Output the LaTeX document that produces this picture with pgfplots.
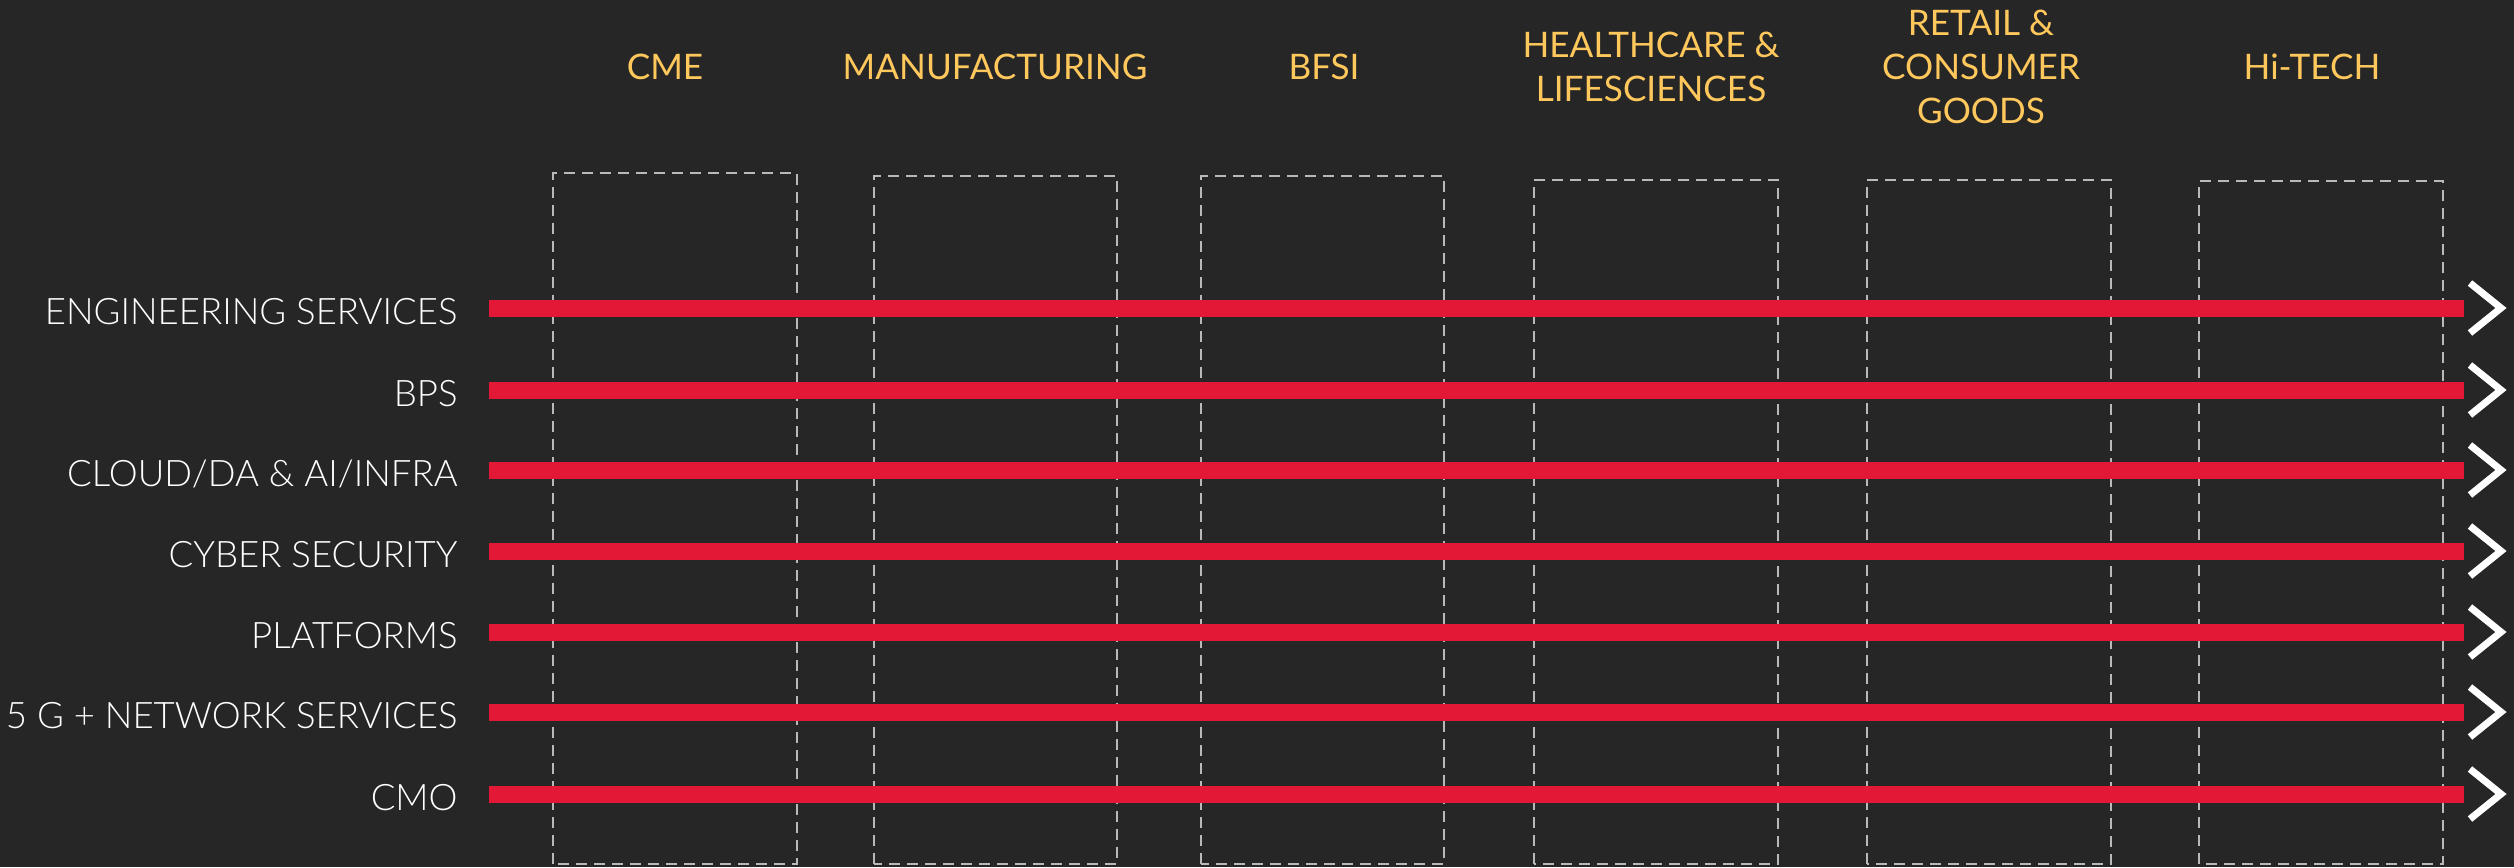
\documentclass[border=0pt]{standalone}
\usepackage{fontspec}
\setmainfont{Lato}[UprightFont={* Light}]
\newfontfamily\hdrfont{Lato}
\usepackage{pgfplots}
\pgfplotsset{compat=1.18}
\definecolor{bg}{RGB}{38,38,38}
\definecolor{barred}{RGB}{226,24,54}
\definecolor{hdr}{RGB}{255,200,92}
\definecolor{boxgray}{RGB}{185,185,185}
\pgfdeclareplotmark{chev}{%
  \pgfpathmoveto{\pgfpoint{-0.16cm}{0.25cm}}%
  \pgfpathlineto{\pgfpoint{0.15cm}{0cm}}%
  \pgfpathlineto{\pgfpoint{-0.16cm}{-0.25cm}}%
  \pgfusepathqstroke}
\begin{document}
\begin{tikzpicture}
\begin{axis}[
  scale only axis, width=25.14cm, height=8.67cm,
  xmin=0, xmax=2514, ymin=0, ymax=867,
  clip=false,
  axis line style={draw=none},
  major tick length=0pt,
  axis background/.style={fill=bg},
  ytick={73,155,235,316,397,477,559},
  yticklabels={CMO, 5 G + NETWORK SERVICES, PLATFORMS, CYBER SECURITY, CLOUD/DA \& AI/INFRA, BPS, ENGINEERING SERVICES},
  yticklabel style={anchor=east, xshift=4.70cm, yshift=-0.035cm, text=white, font=\fontsize{10.4}{12.5}\selectfont},
  xtick={665,995,1324,1651,1981,2312},
  xticklabels={CME, MANUFACTURING, BFSI, {HEALTHCARE \&\\LIFESCIENCES}, {RETAIL \&\\CONSUMER\\GOODS}, Hi-TECH},
  xticklabel pos=upper,
  xticklabel style={anchor=center, align=center, yshift=-0.67cm, text=hdr, font=\hdrfont\fontsize{10}{12.5}\selectfont},
  boxstyle/.style={boxgray, line width=0.02cm, dash pattern=on 0.11cm off 0.07cm},
  barstyle/.style={barred, line width=0.17cm},
]
% dashed industry boxes
\addplot[boxstyle] coordinates {(553,3)(553,694)(797,694)(797,3)(553,3)};
\addplot[boxstyle] coordinates {(874,3)(874,691)(1117,691)(1117,3)(874,3)};
\addplot[boxstyle] coordinates {(1201,3)(1201,691)(1444,691)(1444,3)(1201,3)};
\addplot[boxstyle] coordinates {(1534,3)(1534,687)(1778,687)(1778,3)(1534,3)};
\addplot[boxstyle] coordinates {(1867,3)(1867,687)(2111,687)(2111,3)(1867,3)};
\addplot[boxstyle] coordinates {(2199,3)(2199,686)(2443,686)(2443,3)(2199,3)};
% service bars
\addplot[barstyle] coordinates {(489,559)(2464,559)};
\addplot[barstyle] coordinates {(489,477)(2464,477)};
\addplot[barstyle] coordinates {(489,397)(2464,397)};
\addplot[barstyle] coordinates {(489,316)(2464,316)};
\addplot[barstyle] coordinates {(489,235)(2464,235)};
\addplot[barstyle] coordinates {(489,155)(2464,155)};
\addplot[barstyle] coordinates {(489,73)(2464,73)};
% chevrons
\addplot[only marks, mark=chev, white, mark options={line width=0.07cm, miter limit=10, solid}]
  coordinates {(2486,559)(2486,477)(2486,397)(2486,316)(2486,235)(2486,155)(2486,73)};
\end{axis}
\pgfresetboundingbox
\path[use as bounding box] (current axis.south west) rectangle (current axis.north east);
\end{tikzpicture}
\end{document}
